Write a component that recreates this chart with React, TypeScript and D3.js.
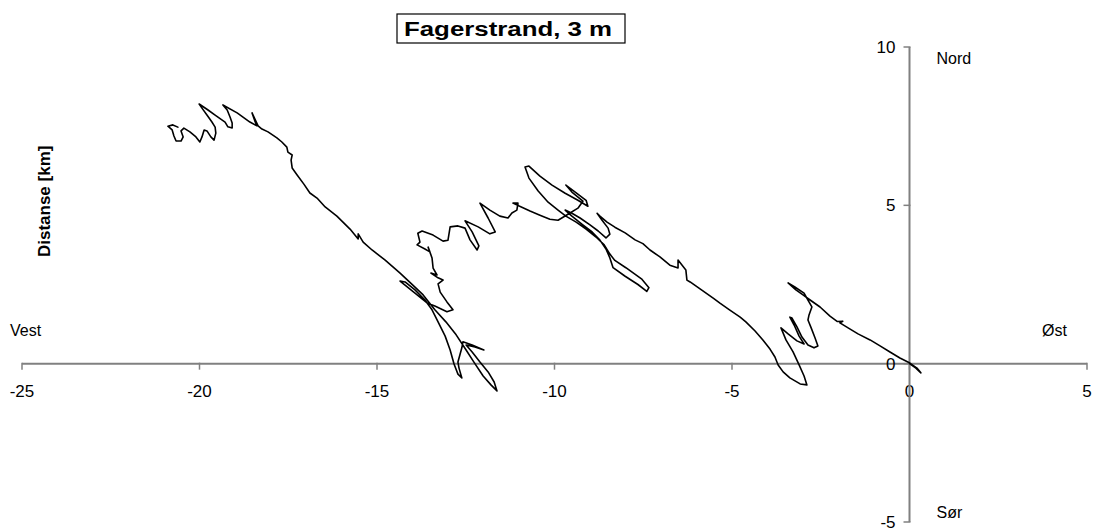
import React from "react";
import * as d3 from "d3";

// Progressive vector track (km east, km north), in time order from the origin
const east: number[] = [
  0.0, 0.18, 0.32, 0.21, 0.01, -0.27, -0.55, -0.83, -1.11, -1.45, -1.73, -1.96, -1.88, -2.03, -2.24, -2.52, -2.8, -3.0, -3.2, -3.42,
  -3.23, -2.97, -2.86, -2.75, -2.83, -2.86, -2.77, -2.66, -2.58, -2.69, -2.86, -3.03, -3.17, -3.31, -3.37, -3.25, -3.11, -2.97, -3.17, -3.42, -3.62,
  -3.48, -3.28, -3.11, -2.97, -2.89, -3.08, -3.37, -3.56, -3.7, -3.79, -3.93, -4.13, -4.35, -4.61, -4.77,
  -5.06, -5.34, -5.53, -5.9, -6.18, -6.27, -6.3, -6.52, -6.52, -6.75, -7.03, -7.31, -7.51, -7.73, -8.01, -8.3, -8.52, -8.72, -8.8,
  -8.66, -8.49, -8.44, -8.55, -8.77, -9.0, -9.28, -9.51, -9.7, -9.51, -9.23, -8.94, -8.72, -8.55, -8.44, -8.35, -8.01, -7.65, -7.4, -7.34,
  -7.55, -7.99, -8.3, -8.44, -8.6, -8.83, -9.11, -9.39, -9.68, -9.9, -10.18, -10.46, -10.72, -10.83, -10.72, -10.41, -10.07, -9.7, -9.34, -9.06,
  -9.11, -9.37, -9.68, -9.51, -9.2, -9.34, -9.62, -9.9, -10.13, -10.41, -10.69, -10.92, -11.17, -11.03, -11.06, -11.2, -11.31, -11.54, -11.82, -12.1,
  -11.87, -11.67, -11.82, -12.15, -12.52, -12.32, -12.13, -12.18, -12.38, -12.52, -12.72, -12.94, -13.0, -13.14, -13.42, -13.73, -13.85, -13.79, -13.87,
  -13.65, -13.51, -13.56, -13.45, -13.42, -13.31, -13.48, -13.28, -13.14, -13.28, -13.22, -13.03, -12.86, -13.03, -13.37, -13.59,
  -13.93, -14.21, -14.35, -14.21, -13.93, -13.65, -13.45, -13.28, -13.08, -12.94, -12.83, -12.72, -12.61, -12.69, -12.72, -12.61, -12.58, -12.32, -11.99,
  -12.24, -12.49, -12.32, -12.1, -11.87, -11.7, -11.62, -11.79, -12.01, -12.27, -12.49, -12.77, -13.06, -13.37, -13.7, -13.99,
  -14.35, -14.77, -15.14, -15.39, -15.53, -15.53, -15.76, -16.13, -16.46, -16.69, -16.89, -17.06, -17.25, -17.39, -17.42, -17.39, -17.51, -17.54,
  -17.68, -17.82, -18.07, -18.24, -18.35, -18.52, -18.44, -18.38, -18.58, -18.94, -19.34,
  -19.22, -19.14, -19.08, -19.08, -19.2, -19.28, -19.56, -19.76, -20.01, -19.93, -19.79, -19.65, -19.56, -19.54, -19.59, -19.68, -19.79, -19.87,
  -19.93, -19.99, -20.1, -20.27, -20.44, -20.52, -20.46, -20.52, -20.66, -20.72, -20.77, -20.89, -20.75, -20.61,
];
const north: number[] = [
  0.0, -0.14, -0.29, -0.14, 0.02, 0.18, 0.37, 0.56, 0.75, 0.94, 1.13, 1.29, 1.34, 1.33, 1.5, 1.79, 2.01, 2.17, 2.33, 2.55,
  2.42, 2.23, 2.01, 1.79, 1.54, 1.38, 1.13, 0.81, 0.56, 0.5, 0.59, 0.84, 1.16, 1.44, 1.47, 1.22, 0.87, 0.62, 0.72, 0.94, 1.13,
  0.75, 0.37, -0.04, -0.39, -0.67, -0.64, -0.45, -0.26, -0.04, 0.21, 0.46, 0.75, 1.03, 1.32, 1.47,
  1.69, 1.91, 2.07, 2.36, 2.58, 2.64, 2.96, 3.27, 3.02, 3.11, 3.37, 3.59, 3.79, 3.91, 4.13, 4.31, 4.47, 4.66, 4.75,
  4.53, 4.28, 4.09, 3.97, 4.19, 4.38, 4.6, 4.75, 4.85, 4.66, 4.41, 4.16, 3.9, 3.62, 3.34, 3.03, 2.76, 2.5, 2.28, 2.4,
  2.68, 3.03, 3.26, 3.46, 3.75, 4.0, 4.25, 4.47, 4.66, 4.85, 5.1, 5.45, 5.86, 6.21, 6.24, 5.92, 5.64, 5.38, 5.16, 4.97,
  5.16, 5.38, 5.64, 5.42, 5.13, 4.91, 4.72, 4.53, 4.56, 4.69, 4.82, 4.94, 5.07, 5.07, 4.85, 4.76, 4.6, 4.66, 4.85, 5.07,
  4.6, 4.16, 4.1, 4.32, 4.51, 4.16, 3.72, 3.59, 3.91, 4.28, 4.35, 4.32, 3.9, 3.87, 4.06, 4.19, 4.12, 3.84, 3.75,
  3.62, 3.53, 3.68, 3.34, 3.02, 2.8, 2.86, 2.71, 2.64, 2.52, 2.26, 1.95, 1.7, 1.64, 1.82, 1.92,
  2.23, 2.48, 2.61, 2.58, 2.33, 2.01, 1.7, 1.32, 0.87, 0.43, -0.01, -0.33, -0.45, -0.14, 0.05, 0.5, 0.69, 0.59, 0.43,
  0.53, 0.59, 0.37, 0.05, -0.26, -0.58, -0.86, -0.67, -0.39, 0.05, 0.43, 0.91, 1.32, 1.7, 2.17, 2.48,
  2.86, 3.27, 3.59, 3.84, 4.1, 3.94, 4.25, 4.66, 4.95, 5.23, 5.39, 5.67, 5.96, 6.18, 6.43, 6.59, 6.68, 6.84,
  7.0, 7.13, 7.32, 7.41, 7.51, 7.92, 7.66, 7.51, 7.63, 7.92, 8.17,
  8.01, 7.79, 7.6, 7.44, 7.48, 7.63, 7.85, 8.01, 8.2, 8.07, 7.85, 7.63, 7.47, 7.28, 7.06, 7.16, 7.35, 7.38,
  7.16, 7.0, 7.16, 7.32, 7.44, 7.35, 7.16, 7.03, 7.03, 7.19, 7.38, 7.5, 7.54, 7.47,
];

const xTicks = [-25, -20, -15, -10, -5, 0, 5];
const yTicks = [-5, 0, 5, 10];
const title = "Fagerstrand, 3 m";
const yTitle = "Distanse [km]";
const dirLabels = { north: "Nord", south: "Sør", west: "Vest", east: "Øst" };

const W = 1098;
const H = 531;
const FONT = "'Liberation Sans', Arial, sans-serif";

export default function App() {
  const x = d3.scaleLinear().domain([-25, 5]).range([22, 1087]);
  const y = d3.scaleLinear().domain([-5, 10]).range([522, 47]);
  const x0 = x(0);
  const y0 = y(0);
  const pts: [number, number][] = east.map((e, i) => [e, north[i]]);
  const line = d3
    .line<[number, number]>()
    .x((d) => x(d[0]))
    .y((d) => y(d[1]));
  const axisColor = "#808080";

  return (
    <svg
      width={W}
      height={H}
      style={{ position: "absolute", left: 0, top: 0, background: "#fff" }}
      fontFamily={FONT}
    >
      <rect x={0} y={0} width={W} height={H} fill="#fff" />
      {/* x axis */}
      <line x1={x(-25)} x2={x(5)} y1={y0} y2={y0} stroke={axisColor} strokeWidth={2} />
      {xTicks.map((t) => (
        <g key={"xt" + t}>
          <line x1={x(t)} x2={x(t)} y1={y0 - 1} y2={y0 + 6} stroke={axisColor} strokeWidth={1.5} />
          <text x={x(t)} y={y0 + 33} textAnchor="middle" fontSize={17} fill="#000">
            {t}
          </text>
        </g>
      ))}
      {/* y axis */}
      <line x1={x0} x2={x0} y1={y(10)} y2={y(-5)} stroke={axisColor} strokeWidth={2} />
      {yTicks.map((t) => (
        <g key={"yt" + t}>
          <line x1={x0 - 6} x2={x0 + 1} y1={y(t)} y2={y(t)} stroke={axisColor} strokeWidth={1.5} />
          <text x={x0 - 14} y={y(t) + 6} textAnchor="end" fontSize={17} fill="#000">
            {t}
          </text>
        </g>
      ))}
      {/* track */}
      <path
        d={line(pts) || ""}
        fill="none"
        stroke="#000"
        strokeWidth={1.6}
        strokeLinejoin="round"
        strokeLinecap="round"
      />
      {/* direction labels */}
      <text x={x0 + 27} y={y(10) + 17} fontSize={16} fill="#000">{dirLabels.north}</text>
      <text x={x0 + 27} y={y(-5) - 4} fontSize={16} fill="#000">{dirLabels.south}</text>
      <text x={10} y={y0 - 28} fontSize={16} fill="#000">{dirLabels.west}</text>
      <text x={1042} y={y0 - 28} fontSize={16} fill="#000">{dirLabels.east}</text>
      {/* y title */}
      <text
        transform={`translate(50, ${y(5) - 4}) rotate(-90)`}
        textAnchor="middle"
        fontSize={17}
        fontWeight="bold"
        fill="#000"
      >
        {yTitle}
      </text>
      {/* title box */}
      <rect x={397} y={14} width={228} height={29} fill="#fff" stroke="#000" strokeWidth={1.2} />
      <text
        x={404}
        y={36}
        fontSize={20}
        fontWeight="bold"
        fill="#000"
        textLength={208}
        lengthAdjust="spacingAndGlyphs"
      >
        {title}
      </text>
    </svg>
  );
}
